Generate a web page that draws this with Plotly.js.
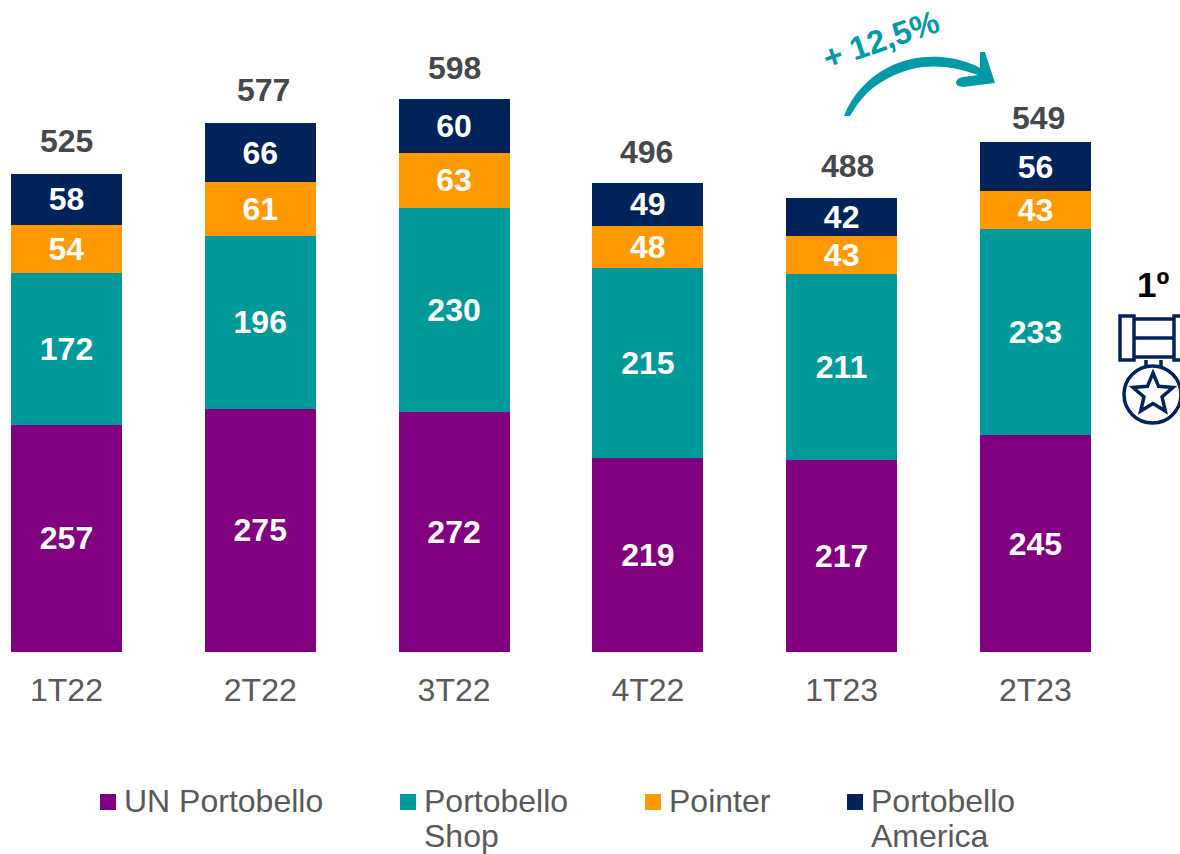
<!DOCTYPE html>
<html>
<head>
<meta charset="utf-8">
<script src="https://cdn.plot.ly/plotly-3.0.1.min.js"></script>
<style>html,body{margin:0;padding:0;background:#fff}#c{width:1180px;height:854px}</style>
</head>
<body>
<div id="c"></div>
<script>
const categories = ["1T22","2T22","3T22","4T22","1T23","2T23"];
const unPortobello = [257,275,272,219,217,245];
const portobelloShop = [172,196,230,215,211,233];
const pointer = [54,61,63,48,43,43];
const portobelloAmerica = [58,66,60,49,42,56];
const totalLabels = ["525","577","598","496","488","549"];
const totalShiftX = [0,3,0,-1,6,3];
const totalShiftY = [33,33,31,31,32,24];

const colors = {purple:"#800080", teal:"#009999", orange:"#FF9900", navy:"#00235A", arrow:"#0099A8"};
const FONT = "Liberation Sans, Arial, sans-serif";
const W = 1180, H = 854, BASE = 652;
const px = x => x / W;
const py = y => (BASE - y) / BASE;

const seriesDefs = [
  {name:"UN Portobello", y:unPortobello, color:colors.purple},
  {name:"Portobello Shop", y:portobelloShop, color:colors.teal},
  {name:"Pointer", y:pointer, color:colors.orange},
  {name:"Portobello America", y:portobelloAmerica, color:colors.navy}
];
const traces = seriesDefs.map(s => ({
  type:"bar", name:s.name, x:categories.map((_,i)=>i), y:s.y,
  text:s.y.map(String), textposition:"inside", insidetextanchor:"middle", textangle:0,
  constraintext:"none", cliponaxis:false,
  insidetextfont:{family:FONT, size:32, color:"#fff", weight:700},
  marker:{color:s.color, line:{width:0}}, showlegend:false
}));
const stackTops = categories.map((_,i)=>seriesDefs.reduce((a,s)=>a+s.y[i],0));

const shapes = [], annotations = [];
totalLabels.forEach((t,i)=>{
  annotations.push({xref:"x", yref:"y", x:i, y:stackTops[i], text:t, showarrow:false,
    xanchor:"center", yanchor:"middle", xshift:totalShiftX[i], yshift:totalShiftY[i],
    font:{family:FONT, size:32, color:"#46484C", weight:700}});
});

// Legend (wrapped, hand-placed like the original)
const legendSwatchX = [100,400,645,847];
const legendLines = [["UN Portobello"],["Portobello","Shop"],["Pointer"],["Portobello","America"]];
const legendColors = [colors.purple,colors.teal,colors.orange,colors.navy];
legendSwatchX.forEach((x,i)=>{
  shapes.push({type:"rect", xref:"paper", yref:"paper", x0:px(x), x1:px(x+16), y0:py(794), y1:py(810),
    fillcolor:legendColors[i], line:{width:0}});
  legendLines[i].forEach((t,j)=>{
    annotations.push({xref:"paper", yref:"paper", x:px(x+21.5), y:py(801+34.5*j), text:t, showarrow:false,
      xanchor:"left", yanchor:"middle", font:{family:FONT, size:32, color:"#595959"}});
  });
});

// Growth arrow
const P = (x,y)=>px(x).toFixed(5)+","+py(y).toFixed(5);
shapes.push({type:"path", xref:"paper", yref:"paper", fillcolor:colors.arrow, line:{width:0},
  path:"M"+P(844,116)+" C"+P(852,95)+" "+P(868,78)+" "+P(887,68)
    +" C"+P(905,58)+" "+P(925,56)+" "+P(940,57)
    +" C"+P(955,58)+" "+P(970,62)+" "+P(980,68)
    +" L"+P(980,52)+" L"+P(985,52)+" L"+P(995,83)+" L"+P(963,87)
    +" Q"+P(955,86)+" "+P(956,82)+" Q"+P(957,78)+" "+P(963,77)
    +" L"+P(978,75)+" C"+P(960,68)+" "+P(940,65)+" "+P(923,67)
    +" C"+P(905,69)+" "+P(885,77)+" "+P(867,93)
    +" C"+P(860,100)+" "+P(855,108)+" "+P(850,116)+" Z"});
annotations.push({xref:"paper", yref:"paper", x:px(881), y:py(40), text:"+ 12,5%", showarrow:false, textangle:-19,
  xanchor:"center", yanchor:"middle", font:{family:FONT, size:32.5, color:colors.arrow, weight:700}});

// 1º medal
annotations.push({xref:"paper", yref:"paper", x:px(1153), y:py(284), text:"1º", showarrow:false,
  xanchor:"center", yanchor:"middle", font:{family:FONT, size:35, color:"#000", weight:700}});
const ml = {color:colors.navy, width:3.5};
const rect = (a,b,c,d)=>({type:"rect", xref:"paper", yref:"paper", x0:px(a), x1:px(c), y0:py(b), y1:py(d), line:ml});
const seg = (a,b,c,d)=>({type:"line", xref:"paper", yref:"paper", x0:px(a), x1:px(c), y0:py(b), y1:py(d), line:ml});
shapes.push(rect(1120,316,1134,360), rect(1174,316,1190,360));
shapes.push(seg(1134,319,1174,319), seg(1134,338,1174,338), seg(1134,357,1174,357));
shapes.push(seg(1146,360,1146,368), seg(1161,360,1161,368));
shapes.push({type:"circle", xref:"paper", yref:"paper", x0:px(1124), x1:px(1181), y0:py(366), y1:py(423), line:ml});
let star = "";
for (let k=0;k<10;k++){
  const r = k%2 ? 9.5 : 21, a = -Math.PI/2 + k*Math.PI/5;
  star += (k?"L":"M")+P(1153+r*Math.cos(a), 394+r*Math.sin(a))+" ";
}
shapes.push({type:"path", xref:"paper", yref:"paper", path:star+"Z", line:ml});

const layout = {
  width:W, height:H, margin:{l:0,r:0,t:0,b:H-BASE,pad:0},
  paper_bgcolor:"#fff", plot_bgcolor:"#fff",
  barmode:"stack", bargap:0.427, showlegend:false,
  xaxis:{range:[-0.343,5.746], tickmode:"array", tickvals:categories.map((_,i)=>i), ticktext:categories,
    showgrid:false, zeroline:false, showline:false, ticks:"outside", ticklen:10, tickcolor:"rgba(0,0,0,0)",
    tickfont:{family:FONT, size:32, color:"#595959"}},
  yaxis:{range:[0,737.5], visible:false, showgrid:false, zeroline:false},
  shapes, annotations
};
Plotly.newPlot("c", traces, layout, {displayModeBar:false, staticPlot:true});
</script>
</body>
</html>
